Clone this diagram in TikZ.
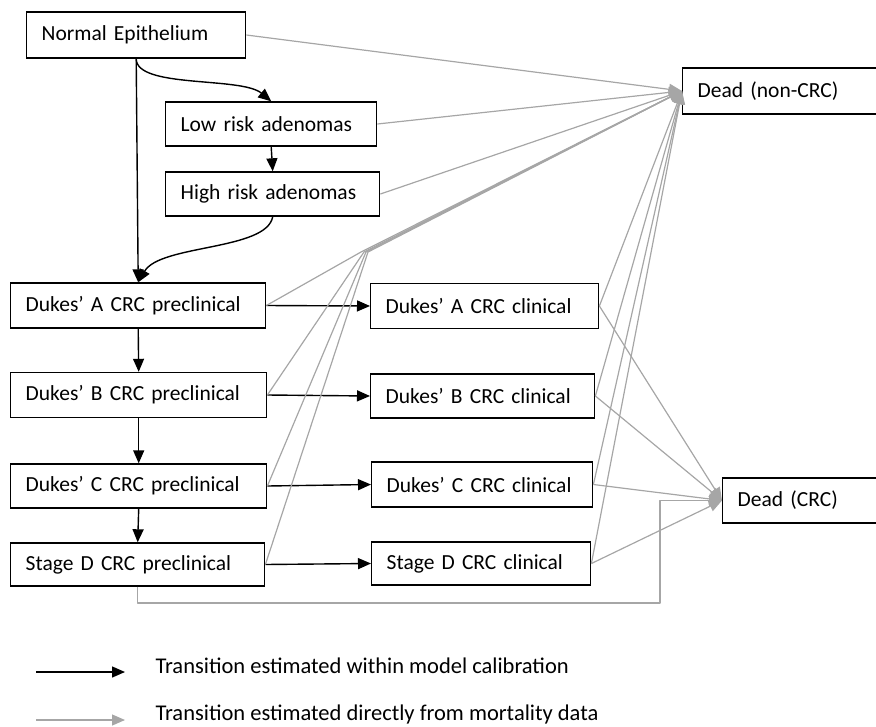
\documentclass[tikz,border=0pt]{standalone}
\usepackage{fontspec}
\setmainfont{Carlito}
\usetikzlibrary{arrows.meta}
\definecolor{mortgrey}{RGB}{166,166,166}

\begin{document}
\begin{tikzpicture}[
            x=1pt, y=-1pt,
            font=\fontsize{21.5}{26}\selectfont,
            state/.style={draw, line width=1.4pt, anchor=west, align=left, inner xsep=15pt, inner ysep=0pt},
            calib/.style={line width=1.4pt, -{Triangle[length=13pt,width=11pt]}},
            mort/.style={draw=mortgrey, line width=1.2pt, line join=round, -{Triangle[length=13pt,width=11pt]}},
        ]
            \useasboundingbox (0,0) rectangle (876,726);

            % 腺瘤部分
            \node[state, text width=189pt, minimum height=46pt] (normal) at (26,35) {Normal Epithelium};
            \node[state, text width=181pt, minimum height=44pt] (low) at (165,124) {Low risk adenomas};
            \node[state, text width=184pt, minimum height=44pt] (high) at (165,194) {High risk adenomas};
            \node[state, text width=168pt, minimum height=46pt] (deadnon) at (682,91) {Dead (non-CRC)};

            % 临床前与临床阶段
            \node[state, text width=225pt, minimum height=45pt] (prea) at (10,305.5) {Dukes' A CRC preclinical};
            \node[state, text width=226pt, minimum height=45pt] (preb) at (10,395) {Dukes' B CRC preclinical};
            \node[state, text width=226pt, minimum height=44pt] (prec) at (10,486) {Dukes' C CRC preclinical};
            \node[state, text width=224pt, minimum height=43pt] (pred) at (10,564.5) {Stage D CRC preclinical};
            \node[state, text width=198pt, minimum height=45pt] (clina) at (370,306) {Dukes' A CRC clinical};
            \node[state, text width=194pt, minimum height=44pt] (clinb) at (370,396) {Dukes' B CRC clinical};
            \node[state, text width=191pt, minimum height=45pt] (clinc) at (371,484.5) {Dukes' C CRC clinical};
            \node[state, text width=189pt, minimum height=43pt] (clind) at (371,563.5) {Stage D CRC clinical};
            \node[state, text width=128pt, minimum height=45pt] (deadcrc) at (722,500.5) {Dead (CRC)};

            % 校准得到的转移
            \draw[calib] (normal.south) -- (prea.north);
            \draw[calib] (normal.south) .. controls +(0,30) and +(-30,-25) .. (low.north);
            \draw[calib] (low.south) -- (high.north);
            \draw[calib] (high.south) .. controls +(-6,34) and +(22,-38) .. (prea.north);
            \foreach \a/\b in {prea/preb, preb/prec, prec/pred}
                \draw[calib] (\a.south) -- (\b.north);
            \foreach \a/\b in {prea/clina, preb/clinb, prec/clinc, pred/clind}
                \draw[calib] (\a.east) -- (\b.west);

            % 死亡率数据得到的转移
            \draw[mort] (normal.east) -- (deadnon.west);
            \draw[mort] (low.east) -- (deadnon.west);
            \draw[mort] (high.east) -- (deadnon.west);
            \coordinate (hub) at (365,252);
            \foreach \p/\s in {prea/-4, preb/-1, prec/1, pred/3}
                \draw[mort] (\p.east) -- ([xshift=\s pt]hub) -- (deadnon.west);
            \foreach \c in {clina, clinb, clinc, clind} {
                \draw[mort] (\c.east) -- (deadnon.west);
                \draw[mort] (\c.east) -- (deadcrc.west);
            }
            \coordinate (detour) at (660,603);
            \draw[mort] (pred.south) |- (detour) |- (deadcrc.west);

            % 图例
            \coordinate (keycalibA) at (36,672);
            \coordinate (keycalibB) at (125,672);
            \coordinate (keymortA) at (36,720);
            \coordinate (keymortB) at (125,720);
            \draw[calib] (keycalibA) -- (keycalibB);
            \draw[mort] (keymortA) -- (keymortB);
            \node[anchor=west, font=\fontsize{22.5}{27}\selectfont] (keycalib) at (152,666) {Transition estimated within model calibration};
            \node[anchor=west, font=\fontsize{22.5}{27}\selectfont] (keymort) at (152,714) {Transition estimated directly from mortality data};

        \end{tikzpicture}
\end{document}
